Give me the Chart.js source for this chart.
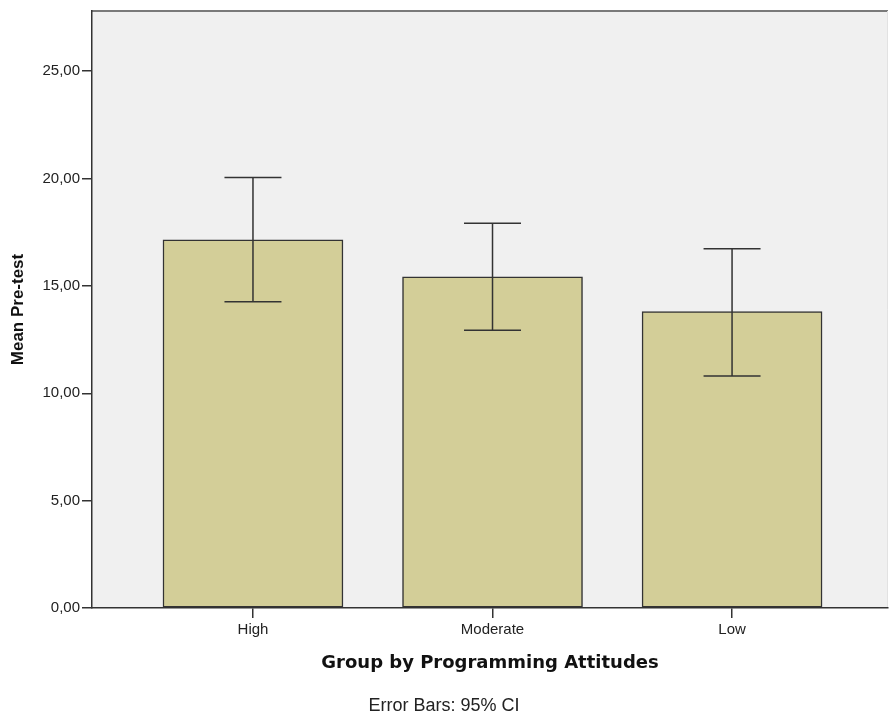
<!DOCTYPE html>
<html>
<head>
<meta charset="utf-8">
<script src="https://cdn.jsdelivr.net/npm/chart.js@4/dist/chart.umd.min.js"></script>
<style>
  html, body { margin: 0; padding: 0; background: #fff; }
  #wrap { width: 889px; height: 717px; }
</style>
</head>
<body>
<div id="wrap"><canvas id="myChart" width="889" height="717"></canvas></div>
<script>
// values
const categories = ['High', 'Moderate', 'Low'];
const means = [17.15, 15.42, 13.80];
const ciLower = [14.26, 12.93, 10.80];
const ciUpper = [20.05, 17.92, 16.73];
const yTickValues = [0, 5, 10, 15, 20, 25];
const yMax = 27.8;
// category axis runs past the first/last group (SPSS-style outer gap)
const xMin = -0.672;
const xMax = 2.651;

const barFill = 'rgb(211, 206, 152)';
const lineCol = '#333333';

// grey plot background + frame
const plotFrame = {
  id: 'plotFrame',
  beforeDraw(chart) {
    const { ctx, chartArea: a } = chart;
    ctx.save();
    ctx.fillStyle = '#f0f0f0';
    ctx.fillRect(a.left, a.top, a.right - a.left, a.bottom - a.top);
    ctx.strokeStyle = '#7a7a7a';
    ctx.lineWidth = 2;
    ctx.beginPath();
    ctx.moveTo(a.left, a.top);
    ctx.lineTo(a.right, a.top);
    ctx.stroke();
    ctx.strokeStyle = '#e2e2e2';
    ctx.lineWidth = 1;
    ctx.beginPath();
    ctx.moveTo(a.right - 0.5, a.top);
    ctx.lineTo(a.right - 0.5, a.bottom);
    ctx.stroke();
    ctx.restore();
  }
};

// 95% CI whiskers
const errorBars = {
  id: 'errorBars',
  afterDatasetsDraw(chart) {
    const { ctx } = chart;
    const y = chart.scales.y;
    const meta = chart.getDatasetMeta(0);
    ctx.save();
    ctx.strokeStyle = lineCol;
    ctx.lineWidth = 1.5;
    meta.data.forEach((bar, i) => {
      const x = bar.x;
      const yLo = y.getPixelForValue(ciLower[i]);
      const yHi = y.getPixelForValue(ciUpper[i]);
      const cap = 28.5;
      ctx.beginPath();
      ctx.moveTo(x, yLo);
      ctx.lineTo(x, yHi);
      ctx.moveTo(x - cap, yHi);
      ctx.lineTo(x + cap, yHi);
      ctx.moveTo(x - cap, yLo);
      ctx.lineTo(x + cap, yLo);
      ctx.stroke();
    });
    ctx.restore();
  }
};

const ctx = document.getElementById('myChart').getContext('2d');
new Chart(ctx, {
  type: 'bar',
  data: {
    datasets: [{
      data: means.map((m, i) => ({ x: i, y: m })),
      backgroundColor: barFill,
      borderColor: lineCol,
      borderWidth: 1.5,
      borderSkipped: false,
      barThickness: 180
    }]
  },
  options: {
    responsive: false,
    animation: false,
    layout: { padding: { top: 10, right: 1, left: 0, bottom: 0 } },
    plugins: {
      legend: { display: false },
      tooltip: { enabled: false },
      title: {
        display: true,
        text: 'Error Bars: 95% CI',
        position: 'bottom',
        color: '#222',
        font: { family: 'Liberation Sans', size: 18, weight: 'normal' },
        padding: { top: 0, bottom: 0 }
      }
    },
    scales: {
      x: {
        type: 'linear',
        min: xMin,
        max: xMax,
        offset: false,
        grid: { display: true, drawOnChartArea: false, offset: false, tickLength: 10, color: lineCol, lineWidth: 1.5 },
        border: { display: true, color: lineCol, width: 1.5 },
        ticks: {
          color: '#222',
          padding: 3,
          font: { family: 'Liberation Sans', size: 15 },
          callback: v => categories[v]
        },
        afterBuildTicks(scale) {
          scale.ticks = categories.map((c, i) => ({ value: i }));
        },
        title: {
          display: true,
          text: 'Group by Programming Attitudes',
          color: '#111',
          font: { family: 'DejaVu Sans', size: 18, weight: 'bold' },
          padding: { top: 0, bottom: 21.6 }
        },
        afterFit(scale) { scale.height = 87.4; }
      },
      y: {
        min: 0,
        max: yMax,
        grid: { display: true, drawOnChartArea: false, tickLength: 10, color: lineCol, lineWidth: 1.5 },
        border: { display: true, color: lineCol, width: 1.5 },
        ticks: {
          color: '#222',
          padding: 2,
          font: { family: 'Liberation Sans', size: 15 },
          callback: v => v.toFixed(2).replace('.', ',')
        },
        afterBuildTicks(scale) {
          scale.ticks = yTickValues.map(v => ({ value: v }));
        },
        title: {
          display: true,
          text: 'Mean Pre-test',
          color: '#111',
          font: { family: 'Liberation Sans', size: 17, weight: 'bold' },
          padding: { top: 8, bottom: 0 }
        },
        afterFit(scale) { scale.width = 92; }
      }
    }
  },
  plugins: [plotFrame, errorBars]
});
</script>
</body>
</html>
